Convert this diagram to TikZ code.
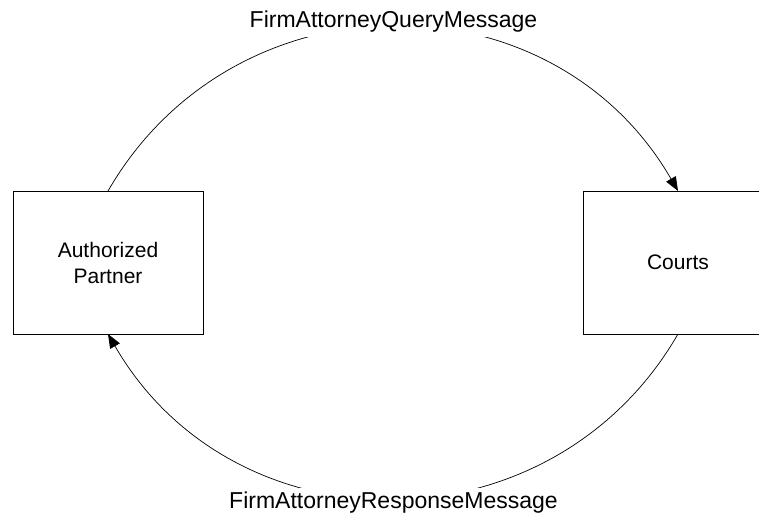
\documentclass[tikz,border=0pt]{standalone}
\usepackage{fontspec}
\setmainfont{Liberation Sans}
\usepackage{tikz}
\usetikzlibrary{arrows.meta,positioning}

\begin{document}
\begin{tikzpicture}[x=1pt,y=1pt,
	box/.style={draw,line width=0.8pt,minimum width=190pt,minimum height=143pt,inner sep=0pt,outer sep=0pt,align=center,font=\fontsize{21}{26}\selectfont},
	msg/.style={fill=white,inner xsep=3pt,inner ysep=4pt,font=\fontsize{23}{27}\selectfont},
	link/.style={line width=0.7pt,-{Triangle[length=14pt,width=11pt]}}]
	\useasboundingbox (0,0) rectangle (759,513);
	\node[box] (partner) at (108,250.5) {Authorized\\Partner};
	\node[box] (courts) at (678,250.5) {Courts};
	% query arc on top, reply arc below
	\draw[link] (partner.north) .. controls +(60:253) and +(120:253) .. (courts.north);
	\draw[link] (courts.south) .. controls +(-120:253) and +(-60:253) .. (partner.south);
	\node[msg] (query) at (393.5,491) {FirmAttorneyQueryMessage};
	\node[msg] (reply) at (393.5,10) {FirmAttorneyResponseMessage};
\end{tikzpicture}
\end{document}
